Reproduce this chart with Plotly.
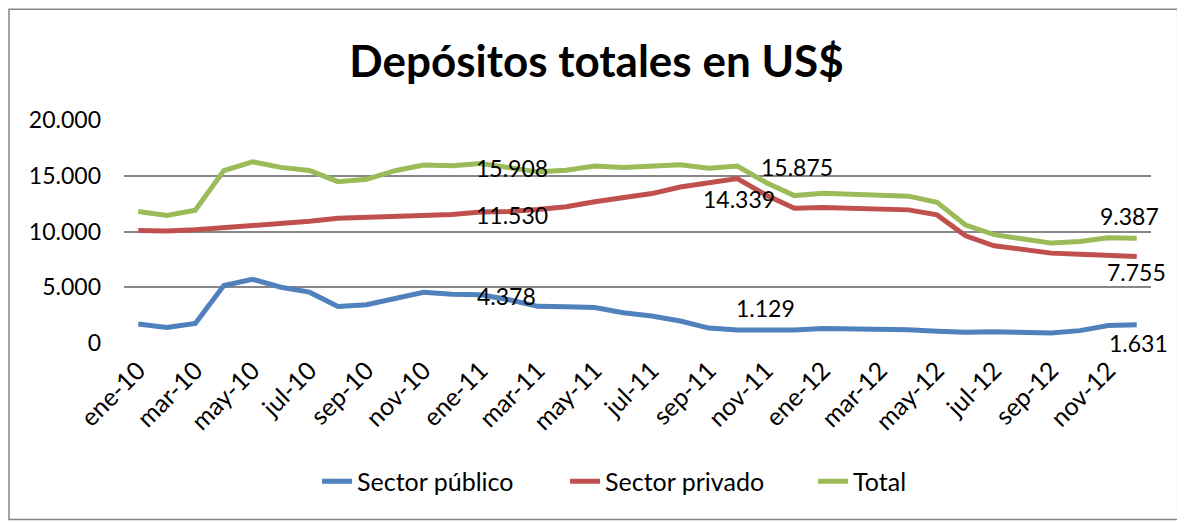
import plotly.graph_objects as go

# ---- data -------------------------------------------------------------
meses = ["ene", "feb", "mar", "abr", "may", "jun", "jul", "ago", "sep", "oct", "nov", "dic"]
months = [f"{m}-{y}" for y in ("10", "11", "12") for m in meses]

sector_publico = [1700, 1400, 1760, 5160, 5720, 5000, 4560, 3280, 3430, 4030, 4550, 4378,
                  4330, 3880, 3290, 3260, 3180, 2720, 2420, 1970, 1340, 1170, 1129, 1160,
                  1300, 1280, 1250, 1190, 1050, 960, 1010, 930, 900, 1110, 1570, 1631]

sector_privado = [10100, 10050, 10150, 10330, 10580, 10780, 10920, 11190, 11250, 11340, 11430, 11530,
                  11750, 11800, 11980, 12220, 12660, 13050, 13400, 13990, 14339, 14746, 13280, 12090,
                  12150, 12090, 12000, 11940, 11490, 9610, 8720, 8360, 8060, 7970, 7820, 7755]

total = [11800, 11440, 11900, 15460, 16250, 15750, 15470, 14470, 14680, 15450, 15970, 15908,
         16100, 15700, 15350, 15500, 15880, 15730, 15800, 15980, 15679, 15875, 14400, 13220,
         13440, 13360, 13270, 13170, 12610, 10580, 9720, 9320, 8960, 9100, 9430, 9387]

tick_labels = months[::2]

series = [
    ("Sector público", sector_publico, "#4F81BD"),
    ("Sector privado", sector_privado, "#C0504D"),
    ("Total", total, "#9BBB59"),
]

# data labels: (series values, month, xshift, yshift)
data_labels = [
    (total, "dic-10", 60, -2),
    (sector_privado, "dic-10", 60, -1),
    (sector_publico, "dic-10", 54, -2),
    (sector_privado, "sep-11", 30, -16),
    (total, "oct-11", 60, -1),
    (sector_publico, "nov-11", 0, 22),
    (total, "dic-12", -7, 22),
    (sector_privado, "dic-12", 0, -15),
    (sector_publico, "dic-12", 2, -18),
]

FONT = "Lato, 'Open Sans', sans-serif"

fig = go.Figure()
for name, vals, color in series:
    fig.add_trace(go.Scatter(
        x=months, y=vals, mode="lines", name=name,
        line=dict(color=color, width=5),
    ))

def fmt(v):
    return f"{v:,}".replace(",", ".")

for vals, m, dx, dy in data_labels:
    i = months.index(m)
    fig.add_annotation(
        x=m, y=vals[i], text=fmt(vals[i]), showarrow=False,
        xanchor="center", yanchor="middle", xshift=dx, yshift=dy,
        font=dict(family=FONT, size=23, color="#000000"),
    )

# chart border
fig.add_shape(type="rect", xref="paper", yref="paper",
              x0=-0.112, x1=1.026, y0=-0.791, y1=1.497,
              line=dict(color="#868686", width=1.5), fillcolor="rgba(0,0,0,0)")

fig.update_layout(
    width=1177, height=514,
    margin=dict(l=116, r=34, t=112, b=179),
    paper_bgcolor="white", plot_bgcolor="white",
    separators=",.",
    font=dict(family=FONT, size=23, color="#000000"),
    title=dict(text="<b>Depósitos totales en US$</b>", x=0.5, xref="container",
               y=0.895, yref="container", xanchor="center", yanchor="middle",
               font=dict(family=FONT, size=44, color="#000000")),
    showlegend=True,
    legend=dict(orientation="h", x=0.188, xanchor="left", y=-0.621, yanchor="middle",
                yref="paper", entrywidth=203, entrywidthmode="pixels",
                font=dict(family=FONT, size=25), bgcolor="rgba(0,0,0,0)"),
    hovermode=False,
)

fig.update_xaxes(
    type="category", categoryorder="array", categoryarray=months,
    range=[-0.5, len(months) - 0.5],
    tickmode="array", tickvals=tick_labels, ticktext=tick_labels,
    tickangle=-45, showgrid=False, showline=False, zeroline=False,
    ticks="", ticklabelstandoff=7,
    tickfont=dict(family=FONT, size=25),
)

fig.update_yaxes(
    range=[0, 20000], tickmode="array", tickvals=[0, 5000, 10000, 15000, 20000],
    tickformat=",d", showgrid=True, gridcolor="#878787", gridwidth=1.5,
    zeroline=False, showline=False, ticks="", ticklabelstandoff=22,
    tickfont=dict(family=FONT, size=23),
)

fig.write_html("out.html")
